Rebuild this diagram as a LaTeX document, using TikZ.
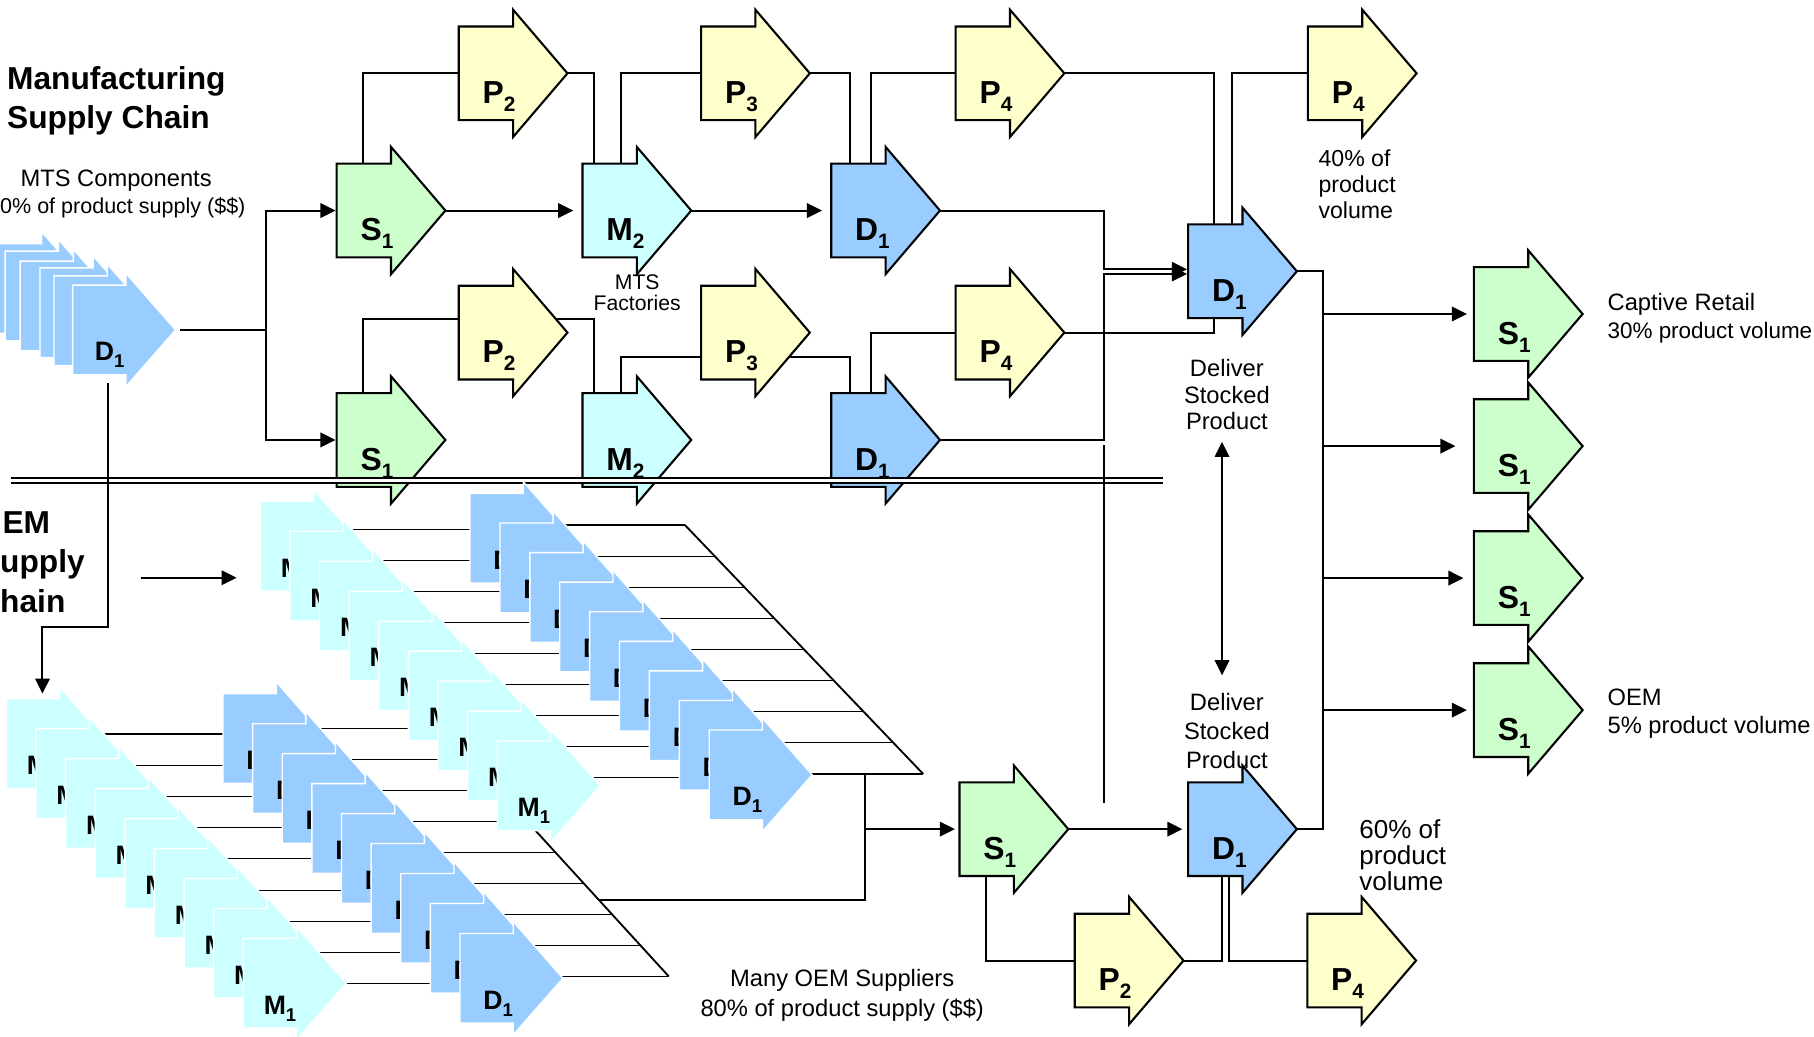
\documentclass[tikz,border=0pt]{standalone}
\usepackage{fontspec}
\setmainfont{Liberation Sans}
\usepackage{xcolor}
\usepackage{tikz}
\usetikzlibrary{arrows.meta}
\definecolor{sgreen}{HTML}{CCFFCC}
\definecolor{pyellow}{HTML}{FFFFCC}
\definecolor{mcyan}{HTML}{CCFFFF}
\definecolor{dblue}{HTML}{99CCFF}
\newcommand{\lsub}[1]{\raisebox{-7pt}{\fontsize{18}{18}\selectfont #1}}
\newcommand{\ssub}[1]{\raisebox{-6pt}{\fontsize{16}{16}\selectfont #1}}
\tikzset{
  conn/.style={line width=1.8pt},
  arr/.style={line width=1.8pt,-{Triangle[length=13pt,width=12.5pt]}},
  dblarr/.style={line width=1.5pt,{Triangle[length=13pt,width=12.5pt]}-{Triangle[length=13pt,width=12.5pt]}},
  rung/.style={line width=1pt},
  diag/.style={line width=1.6pt},
  lbl/.style={font=\fontsize{27.5}{27.5}\selectfont\bfseries,inner sep=0pt,anchor=base west},
  slbl/.style={font=\fontsize{23}{23}\selectfont\bfseries,inner sep=0pt,anchor=base west},
  ttl/.style={font=\fontsize{27.4}{27.4}\selectfont\bfseries,inner sep=0pt,anchor=base west},
  txt/.style={font=\fontsize{20.5}{20.5}\selectfont,inner sep=0pt},
  pics/procblk/.style n args={3}{code={
    \filldraw[fill=#1,draw=black,line width=1.8pt,line join=miter]
      (0,-40.5) -- (47,-40.5) -- (47,-55) -- (94,0) -- (47,55) -- (47,40.5) -- (0,40.5) -- cycle;
    \node[lbl] (-t) at (20.5,26) {#2\lsub{#3}};
    \coordinate (-tip) at (94,0);
    \coordinate (-w) at (0,0);
    \coordinate (-nw) at (0,-40.5);
    \coordinate (-sw) at (0,40.5);
  }},
  pics/stackblk/.style n args={4}{code={
    \filldraw[fill=#1,draw=white,line width=1.2pt]
      (0,-38.75) -- (46,-38.75) -- (46,-49) -- (89,0) -- (46,49) -- (46,38.75) -- (0,38.75) -- cycle;
    \node[slbl] (-t) at (#4,26.7) {#2\ssub{#3}};
    \coordinate (-tip) at (89,0);
    \coordinate (-nw) at (0,-38.75);
    \coordinate (-sw) at (0,38.75);
  }}
}
\begin{document}
\begin{tikzpicture}[x=1pt,y=-1pt]
\useasboundingbox (0,0) rectangle (1568,896);
% MTS components stack
\foreach \x/\y [count=\i from 0] in {-10/249.3,4.4/255.8,17.4/264.5,34.6/270.3,46.7/277.2}
  \pic (dsk\i) at (\x,\y) {stackblk={dblue}{}{}{20}};
\pic (dsk5) at (62.8,285.2) {stackblk={dblue}{D}{1}{19}};
% manufacturing chain
\pic (S1a) at (291,182) {procblk={sgreen}{S}{1}};
\pic (S1b) at (291,380.3) {procblk={sgreen}{S}{1}};
\pic (P2a) at (396.5,63.4) {procblk={pyellow}{P}{2}};
\pic (P2b) at (396.5,287.5) {procblk={pyellow}{P}{2}};
\pic (M2a) at (503.5,182) {procblk={mcyan}{M}{2}};
\pic (M2b) at (503.5,380.3) {procblk={mcyan}{M}{2}};
\pic (P3a) at (606,63.4) {procblk={pyellow}{P}{3}};
\pic (P3b) at (606,287.5) {procblk={pyellow}{P}{3}};
\pic (D1a) at (718.5,182) {procblk={dblue}{D}{1}};
\pic (D1b) at (718.5,380.3) {procblk={dblue}{D}{1}};
\pic (P4a) at (826,63.4) {procblk={pyellow}{P}{4}};
\pic (P4b) at (826,287.5) {procblk={pyellow}{P}{4}};
\pic (D1c) at (1027,234.5) {procblk={dblue}{D}{1}};
\pic (P4c) at (1130.5,63.4) {procblk={pyellow}{P}{4}};
\pic (S1r1) at (1274,271.4) {procblk={sgreen}{S}{1}};
\pic (S1r2) at (1274,385.6) {procblk={sgreen}{S}{1}};
\pic (S1r3) at (1274,499.7) {procblk={sgreen}{S}{1}};
\pic (S1r4) at (1274,613.8) {procblk={sgreen}{S}{1}};
\pic (S1c) at (829.4,716.7) {procblk={sgreen}{S}{1}};
\pic (D1d) at (1027,716.7) {procblk={dblue}{D}{1}};
\pic (P2c) at (929,830.3) {procblk={pyellow}{P}{2}};
\pic (P4d) at (1130,830.3) {procblk={pyellow}{P}{4}};
% separator
\coordinate (sepL) at (9.3,415.2);
\coordinate (sepR) at (1005.7,415.2);
\draw[line width=1.7pt,double=white,double distance=2.8pt] (sepL) -- (sepR);
% connectors
\coordinate (jL) at (230,285.2);
\draw[conn] ([xshift=4pt]dsk5-tip) -- (jL);
\draw[arr] (jL) |- ([xshift=-1pt]S1a-w);
\draw[arr] (jL) |- ([xshift=-1pt]S1b-w);
\draw[arr] (S1a-tip) -- ([xshift=-8pt]M2a-w);
\draw[arr] (M2a-tip) -- ([xshift=-8pt]D1a-w);
\draw[conn] ([xshift=23pt]S1a-nw) |- (P2a-w);
\draw[conn] (P2a-tip) -| ([xshift=10pt]M2a-nw);
\draw[conn] ([xshift=33pt]M2a-nw) |- (P3a-w);
\draw[conn] (P3a-tip) -| ([xshift=16pt]D1a-nw);
\draw[conn] ([xshift=34pt]D1a-nw) |- (P4a-w);
\draw[conn] (P4a-tip) -| ([xshift=22.5pt]D1c-nw);
\draw[conn] (P4c-w) -| ([xshift=38pt]D1c-nw);
\draw[conn] ([xshift=23pt]S1b-nw) |- ([yshift=11.5pt]P2b-w);
\draw[conn] ([xshift=-9.8pt,yshift=11.5pt]P2b-tip) -| ([xshift=10pt]M2b-nw);
\draw[conn] ([xshift=33pt]M2b-nw) |- ([yshift=-20.8pt]P3b-w);
\draw[conn] ([xshift=-17.8pt,yshift=-20.8pt]P3b-tip) -| ([xshift=16pt]D1b-nw);
\draw[conn] ([xshift=34pt]D1b-nw) |- (P4b-w);
\draw[conn] (P4b-tip) -| ([xshift=22.5pt]D1c-sw);
\coordinate (jA) at (954,232.8);
\coordinate (jB) at (954,236.8);
\draw[arr] (D1a-tip) -| (jA) -- ([xshift=-1pt,yshift=1.7pt]D1c-w);
\draw[arr] (D1b-tip) -| (jB) -- ([xshift=-1pt,yshift=-2.3pt]D1c-w);
\coordinate (vl1) at (954,384.6);
\coordinate (vl2) at (954,693.8);
\draw[conn] (vl1) -- (vl2);
\coordinate (bus) at (1143.5,500);
\draw[conn] (D1c-tip) -| (bus) |- (D1d-tip);
\draw[arr] (bus |- S1r1-w) -- ([xshift=-6pt]S1r1-w);
\draw[arr] (bus |- S1r2-w) -- ([xshift=-16pt]S1r2-w);
\draw[arr] (bus |- S1r3-w) -- ([xshift=-9pt]S1r3-w);
\draw[arr] (bus |- S1r4-w) -- ([xshift=-6pt]S1r4-w);
\coordinate (ds1) at (1056.3,381.9);
\coordinate (ds2) at (1056.3,583.7);
\draw[dblarr] (ds1) -- (ds2);
\draw[arr] (S1c-tip) -- ([xshift=-5pt]D1d-w);
\draw[conn] ([xshift=23pt]S1c-sw) |- (P2c-w);
\draw[conn] (P2c-tip) -| ([xshift=29pt]D1d-sw);
\draw[conn] ([xshift=35.5pt]D1d-sw) |- (P4d-w);
% OEM suppliers, lower group
\foreach \k in {0,...,8}{
  \coordinate (mlr\k) at ({51.5+25.6*\k},{634.4+27*\k});
  \coordinate (dlr\k) at ({212.8+25.6*\k},{634.4+27*\k});
  \coordinate (dlq\k) at ({212.8+25.6*\k},{629.5+26.8*\k});
  \coordinate (dlx\k) at ({382+24.5*\k},{629.5+26.8*\k});
  \draw[rung] (mlr\k) -- (dlr\k);
  \draw[rung] (dlq\k) -- (dlx\k);
}
\draw[diag] (dlx0) -- (dlx8);
\coordinate (oL) at (517.5,777.7);
\coordinate (oB) at (747.6,777.7);
\coordinate (oT) at (747.6,669.3);
\draw[conn] (oL) -- (oB) -- (oT);
\draw[arr] (oB |- S1c-w) -- ([xshift=-4pt]S1c-w);
\foreach \k in {0,...,8}
  \pic (ml\k) at ({5.5+25.6*\k},{642.7+25.9*\k}) {stackblk={mcyan}{M}{1}{17.5}};
\foreach \k in {0,...,8}
  \pic (dl\k) at ({192.8+25.6*\k},{638.4+25.9*\k}) {stackblk={dblue}{D}{1}{20}};
% OEM suppliers, upper group
\foreach \k in {0,...,8}{
  \coordinate (mur\k) at ({271+25.6*\k},{457.5+26.8*\k});
  \coordinate (dur\k) at ({426.3+25.84*\k},{457.5+26.8*\k});
  \coordinate (duq\k) at ({426.3+25.84*\k},{453.8+26.9*\k});
  \coordinate (dux\k) at ({592+25.75*\k},{453.8+26.9*\k});
  \draw[rung] (mur\k) -- (dur\k);
  \draw[rung] (duq\k) -- (dux\k);
}
\draw[diag] (dux0) -- (dux8);
\foreach \k in {0,...,8}
  \pic (mu\k) at ({225+25.6*\k},{472.1+25.9*\k}) {stackblk={mcyan}{M}{1}{17.5}};
\foreach \k in {0,...,8}
  \pic (du\k) at ({406.3+25.84*\k},{465.3+25.56*\k}) {stackblk={dblue}{D}{1}{20}};
\coordinate (jD) at (36.7,542.3);
\draw[arr] ([xshift=30.8pt,yshift=-7.4pt]dsk5-sw) |- (jD) -- ([xshift=31.2pt,yshift=4.4pt]ml0-nw);
\coordinate (emA) at (121.5,499.4);
\coordinate (emB) at (204.5,499.4);
\draw[arr] (emA) -- (emB);
% texts
\node[ttl] (ttl1) at (6,77.2) {Manufacturing};
\node[ttl] (ttl2) at (6,110.9) {Supply Chain};
\node[ttl] (oem1) at (2,461.2) {EM};
\node[ttl] (oem2) at (0,495) {upply};
\node[ttl] (oem3) at (0,529.5) {hain};
\node[txt,anchor=base] (mts1) at (100.4,161.3) {MTS Components};
\node[txt,font=\fontsize{18.6}{18.6}\selectfont,anchor=base west] (mts2) at (0,184.4) {0\% of product supply (\$\$)};
\node[txt,font=\fontsize{18.3}{18.3}\selectfont,anchor=base] (fac1) at (550.8,250) {MTS};
\node[txt,font=\fontsize{18.3}{18.3}\selectfont,anchor=base] (fac2) at (550.8,268.5) {Factories};
\node[txt,font=\fontsize{20}{20}\selectfont,anchor=base west] (v40a) at (1139.5,144) {40\% of};
\node[txt,font=\fontsize{20}{20}\selectfont,anchor=base west] (v40b) at (1139.5,166.5) {product};
\node[txt,font=\fontsize{20}{20}\selectfont,anchor=base west] (v40c) at (1139.5,189) {volume};
\node[txt,anchor=base] (dsp1) at (1060.5,325.7) {Deliver};
\node[txt,anchor=base] (dsp2) at (1060.5,349.2) {Stocked};
\node[txt,anchor=base] (dsp3) at (1060.5,371.3) {Product};
\node[txt,anchor=base] (dsq1) at (1060.5,614) {Deliver};
\node[txt,anchor=base] (dsq2) at (1060.5,639) {Stocked};
\node[txt,anchor=base] (dsq3) at (1060.5,664) {Product};
\node[txt,anchor=base west] (cap1) at (1389.4,268.1) {Captive Retail};
\node[txt,font=\fontsize{19.4}{19.4}\selectfont,anchor=base west] (cap2) at (1389.4,292.6) {30\% product volume};
\node[txt,anchor=base west] (oemr1) at (1389.4,609.5) {OEM};
\node[txt,anchor=base west] (oemr2) at (1389.4,634.3) {5\% product volume};
\node[txt,font=\fontsize{22.5}{22.5}\selectfont,anchor=base west] (v60a) at (1174.8,724.6) {60\% of};
\node[txt,font=\fontsize{22.5}{22.5}\selectfont,anchor=base west] (v60b) at (1174.8,747) {product};
\node[txt,font=\fontsize{22.5}{22.5}\selectfont,anchor=base west] (v60c) at (1174.8,769.5) {volume};
\node[txt,anchor=base] (many1) at (728,853) {Many OEM Suppliers};
\node[txt,anchor=base] (many2) at (728,878.6) {80\% of product supply (\$\$)};
\end{tikzpicture}
\end{document}
